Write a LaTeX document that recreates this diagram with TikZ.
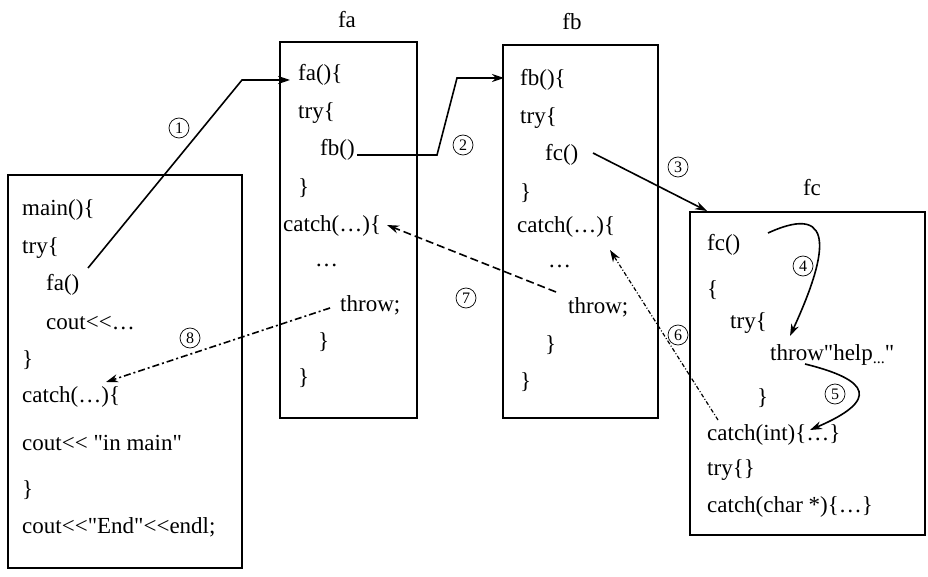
\documentclass[tikz,border=0pt]{standalone}
\usepackage{fontspec}
\setmainfont{Liberation Serif}[Ligatures=TeXOff]
\usetikzlibrary{arrows.meta}
\begin{document}
\begin{tikzpicture}[x=1pt,y=-1pt,
 t/.style={anchor=west,inner sep=0pt,font=\fontsize{23}{23}\selectfont},
 box/.style={draw,line width=1.6pt},
 num/.style={circle,draw,line width=0.7pt,inner sep=0.5pt,minimum size=20pt,font=\fontsize{16}{16}\selectfont},
 ar/.style={line width=1.6pt,-{Stealth[length=12pt,width=8pt]}},
 lab/.style={font=\fontsize{23}{23}\selectfont}]
\useasboundingbox (0,0) rectangle (928,577);
\draw[box] (8,175) rectangle (242,568);
\draw[box] (280,42) rectangle (417,418);
\draw[box] (503,45) rectangle (658,418);
\draw[box] (690,212) rectangle (925,535);
\node[lab] (la) at (347,20) {fa};
\node[lab] (lb) at (572,22) {fb};
\node[lab] (lc) at (812,188) {fc};
% main
\node[t] (m1) at (22,210) {main()\{};
\node[t] (m2) at (22,248) {try\{};
\node[t] (m3) at (46,285) {fa()};
\node[t] (m4) at (46,323) {cout<<…};
\node[t] (m5) at (22,360) {\}};
\node[t] (m6) at (22,397) {catch(…)\{};
\node[t] (m7) at (22,443) {cout<< "in main"};
\node[t] (m8) at (22,490) {\}};
\node[t] (m9) at (22,527) {cout<<"End"<<endl;};
% fa
\node[t] (a1) at (298,75) {fa()\{};
\node[t] (a2) at (298,113) {try\{};
\node[t] (a3) at (320,150) {fb()};
\node[t] (a4) at (298,188) {\}};
\node[t] (a5) at (283,226) {catch(…)\{};
\node[t] (a6) at (315,265) {…};
\node[t] (a7) at (340,305) {throw;};
\node[t] (a8) at (318,342) {\}};
\node[t] (a9) at (298,378) {\}};
% fb
\node[t] (b1) at (520,80) {fb()\{};
\node[t] (b2) at (520,118) {try\{};
\node[t] (b3) at (545,155) {fc()};
\node[t] (b4) at (520,193) {\}};
\node[t] (b5) at (517,227) {catch(…)\{};
\node[t] (b6) at (548,266) {…};
\node[t] (b7) at (568,307) {throw;};
\node[t] (b8) at (545,345) {\}};
\node[t] (b9) at (520,382) {\}};
% fc
\node[t] (c1) at (707,245) {fc()};
\node[t] (c2) at (707,290) {\{};
\node[t] (c3) at (730,323) {try\{};
\node[t] (c4) at (770,355) {throw"help\raisebox{-3pt}{\fontsize{16}{16}\selectfont...}"};
\node[t] (c5) at (757,398) {\}};
\node[t] (c6) at (707,435) {catch(int)\{…\}};
\node[t] (c7) at (707,470) {try\{\}};
\node[t] (c8) at (707,507) {catch(char *)\{…\}};
% numbers
\node[num] (n1) at (179,128) {1};
\node[num] (n2) at (463,145) {2};
\node[num] (n3) at (678,167) {3};
\node[num] (n4) at (803,266) {4};
\node[num] (n5) at (835,394) {5};
\node[num] (n6) at (678,335) {6};
\node[num] (n7) at (466,298) {7};
\node[num] (n8) at (190,338) {8};
% coordinates
\coordinate (s1) at (88,268); \coordinate (k1) at (242,80); \coordinate (e1) at (290,80);
\coordinate (s2) at (357,155); \coordinate (k2) at (437,155); \coordinate (k2b) at (457,78); \coordinate (e2) at (504,78);
\coordinate (s3) at (593,153); \coordinate (e3) at (707,211);
\coordinate (s4) at (768,233); \coordinate (e4) at (790,336);
\coordinate (s5) at (805,364); \coordinate (e5) at (810,430);
\coordinate (s6) at (718,420); \coordinate (e6) at (610,250);
\coordinate (s7) at (556,292); \coordinate (e7) at (387,225);
\coordinate (s8) at (330,308); \coordinate (e8) at (106,382);
\draw[ar] (s1) -- (k1) -- (e1);
\draw[ar] (s2) -- (k2) -- (k2b) -- (e2);
\draw[ar] (s3) -- (e3);
\draw[ar] (s4) .. controls (840,200) and (825,260) .. (e4);
\draw[ar] (s5) .. controls (870,380) and (880,400) .. (e5);
\draw[ar,line width=1.2pt,dash pattern=on 4pt off 2pt on 1pt off 2pt] (s6) -- (e6);
\draw[ar,dash pattern=on 8pt off 4pt] (s7) -- (e7);
\draw[ar,dash pattern=on 7pt off 3pt on 2pt off 3pt] (s8) -- (e8);
\end{tikzpicture}
\end{document}
